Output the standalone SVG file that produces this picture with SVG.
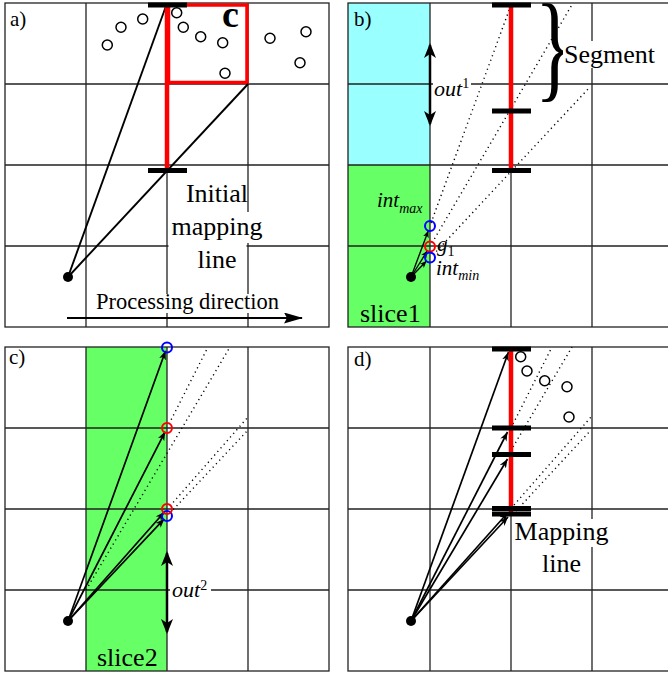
<svg xmlns="http://www.w3.org/2000/svg" width="668" height="677" viewBox="0 0 668 677">
<style>
.grid{stroke:#222;stroke-width:1.3;fill:none}
.red{stroke:#ff0000;stroke-width:4.5;fill:none}
.bar{stroke:#000;stroke-width:5;fill:none}
.ray{stroke:#000;stroke-width:1.9;fill:none}
.raya{stroke:#000;stroke-width:1.7;fill:none;marker-end:url(#ah)}
.rays{stroke:#000;stroke-width:1.3;fill:none;marker-end:url(#ahs)}
.dl{stroke:#000;stroke-width:1.4;stroke-dasharray:1.2 3.6;fill:none}
.oc{fill:none;stroke:#000;stroke-width:1.5}
.bc{fill:none;stroke:#0000ff;stroke-width:2}
.rc{fill:none;stroke:#ff0000;stroke-width:2}
.dbl{stroke:#000;stroke-width:2.5;fill:none;marker-start:url(#ahb);marker-end:url(#ahb)}
.bg{fill:#fff}
text{font-family:"Liberation Serif","Times New Roman",serif;fill:#000}
.it{font-style:italic}
.lab{font-size:21px}
.big{font-size:26px}
</style>
<defs>
<marker id="ah" markerUnits="userSpaceOnUse" markerWidth="9" markerHeight="7" refX="9" refY="3.5" orient="auto"><path d="M0,0 L9,3.5 L0,7 L2.5,3.5 z"/></marker>
<marker id="ahs" markerUnits="userSpaceOnUse" markerWidth="7" markerHeight="6" refX="7" refY="3" orient="auto"><path d="M0,0 L7,3 L0,6 L2,3 z"/></marker>
<marker id="ahb" markerUnits="userSpaceOnUse" markerWidth="15" markerHeight="12" refX="13" refY="6" orient="auto-start-reverse"><path d="M0,0 L15,6 L0,12 L4,6 z"/></marker>
<marker id="ahp" markerUnits="userSpaceOnUse" markerWidth="19" markerHeight="11" refX="18" refY="5.5" orient="auto"><path d="M0,0 L19,5.5 L0,11 L3,5.5 z"/></marker>
</defs>

<!-- Panel a -->
<g id="panel-a">
  <g id="a-grid" class="grid">
    <rect x="5" y="3" width="324" height="324"/>
    <path d="M86,3V327M167,3V327M248,3V327M5,84H329M5,165H329M5,246H329"/>
  </g>
  <g id="a-cell-c">
    <rect x="168.5" y="5" width="78.5" height="77.5" fill="none" stroke="#ff0000" stroke-width="3.5"/>
    <text x="222" y="27" font-size="38" font-weight="bold">c</text>
  </g>
  <g id="a-points">
    <circle class="oc" cx="107.3" cy="45" r="5"/>
    <circle class="oc" cx="121" cy="27.3" r="5"/>
    <circle class="oc" cx="142.7" cy="19" r="5"/>
    <circle class="oc" cx="176.7" cy="12.7" r="5"/>
    <circle class="oc" cx="183.3" cy="27.3" r="5"/>
    <circle class="oc" cx="200.7" cy="36.7" r="5"/>
    <circle class="oc" cx="222.7" cy="42.7" r="5"/>
    <circle class="oc" cx="225" cy="73.3" r="5"/>
    <circle class="oc" cx="270" cy="38.3" r="5"/>
    <circle class="oc" cx="306" cy="31.7" r="5"/>
    <circle class="oc" cx="300" cy="62.7" r="5"/>
  </g>
  <g id="a-connectors">
    <path class="ray" d="M68,277L166,6"/>
    <path class="ray" d="M68,277L248,84"/>
    <path class="ray" d="M67,318H302" stroke-width="2" marker-end="url(#ahp)"/>
  </g>
  <g id="a-mapping-line">
    <path class="red" d="M167,5V168"/>
    <path class="bar" d="M148,5H187M148,170.5H187"/>
  </g>
  <circle id="a-source" cx="68" cy="277" r="5" fill="#000"/>
  <g id="a-label-initial">
    <rect class="bg" x="168.5" y="176" width="78" height="108"/>
    <rect class="bg" x="171" y="212" width="92" height="31"/>
    <text class="big" x="217" y="202" text-anchor="middle">Initial</text>
    <text class="big" x="217" y="235" text-anchor="middle">mapping</text>
    <text class="big" x="217" y="268" text-anchor="middle">line</text>
  </g>
  <g id="a-label-proc">
    <rect class="bg" x="95" y="294" width="188" height="19"/>
    <text x="96" y="309" font-size="22.5">Processing direction</text>
  </g>
  <text class="lab" x="10" y="26">a)</text>
</g>

<!-- Panel b -->
<g id="panel-b">
  <rect x="348" y="3" width="82" height="162" fill="#99ffff"/>
  <rect x="348" y="165" width="82" height="162" fill="#66ff66"/>
  <g id="b-grid" class="grid">
    <rect x="348" y="3" width="325" height="324"/>
    <path d="M430,3V327M511,3V327M592,3V327M348,84H673M348,165H673M348,246H673"/>
  </g>
  <g id="b-connectors">
    <path class="dl" d="M431,223L511,5"/>
    <path class="dl" d="M432,243L573,3"/>
    <path class="dl" d="M433,255L589,88"/>
    <path class="rays" d="M411,277L428.3,230.7"/>
    <path class="rays" d="M411,277L427.4,250.7"/>
    <path class="rays" d="M411,277L426.5,261"/>
    <path class="dbl" d="M430,45V124"/>
  </g>
  <g id="b-segment">
    <path class="red" d="M511,5V168"/>
    <path class="bar" d="M492,5H531M492,111H531M492,170.5H531"/>
  </g>
  <text id="b-brace" transform="translate(535,86) scale(0.68,1)" font-size="118">}</text>
  <g id="b-label-segment">
    <rect class="bg" x="563" y="41" width="96" height="27"/>
    <text class="big" x="564" y="63">Segment</text>
  </g>
  <g id="b-label-out1">
    <rect class="bg" x="433" y="74" width="38" height="26"/>
    <text x="434" y="96" font-size="22"><tspan class="it">out</tspan><tspan font-size="14" dy="-8">1</tspan></text>
  </g>
  <g id="b-intersections">
    <circle class="bc" cx="430" cy="226" r="5"/>
    <circle class="rc" cx="430" cy="246.5" r="5"/>
    <circle class="bc" cx="430" cy="257.5" r="5"/>
  </g>
  <circle id="b-source" cx="411" cy="277" r="5" fill="#000"/>
  <text x="377" y="207" font-size="21" class="it">int<tspan font-size="14" dy="6">max</tspan></text>
  <text x="437" y="251" font-size="21"><tspan class="it">g</tspan><tspan font-size="14" dy="5">1</tspan></text>
  <text x="436" y="275" font-size="21" class="it">int<tspan font-size="14" dy="5">min</tspan></text>
  <text class="big" x="360" y="322">slice1</text>
  <text class="lab" x="354" y="26">b)</text>
</g>

<!-- Panel c -->
<g id="panel-c">
  <rect x="86" y="347" width="81" height="324" fill="#66ff66"/>
  <g id="c-grid" class="grid">
    <rect x="5" y="347" width="324" height="324"/>
    <path d="M86,347V671M167,347V671M248,347V671M5,428H329M5,509H329M5,590H329"/>
  </g>
  <g id="c-connectors">
    <path class="dl" d="M86,590L230,347"/>
    <path class="dl" d="M169,424L208,347"/>
    <path class="dl" d="M170,506L248,417"/>
    <path class="dl" d="M170,513L248,430"/>
    <path class="raya" d="M68,621L165.6,350.8"/>
    <path class="raya" d="M68,621L165.2,431.6"/>
    <path class="raya" d="M68,621L164.4,512"/>
    <path class="raya" d="M68,621L164.3,518.9"/>
    <path class="dbl" d="M167,553V632"/>
  </g>
  <g id="c-intersections">
    <circle class="bc" cx="167" cy="347.5" r="5"/>
    <circle class="rc" cx="167" cy="428" r="5"/>
    <circle class="bc" cx="167" cy="516" r="5"/>
    <circle class="rc" cx="167" cy="509" r="5"/>
  </g>
  <circle id="c-source" cx="68" cy="621" r="5" fill="#000"/>
  <g id="c-label-out2">
    <rect class="bg" x="170" y="579" width="41" height="22"/>
    <text x="172" y="597" font-size="22"><tspan class="it">out</tspan><tspan font-size="14" dy="-7">2</tspan></text>
  </g>
  <text class="big" x="97" y="666">slice2</text>
  <text class="lab" x="9" y="364">c)</text>
</g>

<!-- Panel d -->
<g id="panel-d">
  <g id="d-grid" class="grid">
    <rect x="348" y="347" width="325" height="324"/>
    <path d="M430,347V671M511,347V671M592,347V671M348,428H673M348,509H673M348,590H673"/>
  </g>
  <g id="d-points">
    <circle class="oc" cx="520.7" cy="356.7" r="5"/>
    <circle class="oc" cx="527" cy="371" r="5"/>
    <circle class="oc" cx="544.7" cy="380.7" r="5"/>
    <circle class="oc" cx="567" cy="386.7" r="5"/>
    <circle class="oc" cx="569" cy="417" r="5"/>
  </g>
  <g id="d-connectors">
    <path class="dl" d="M513,424L552,347"/>
    <path class="dl" d="M513,447L572,347"/>
    <path class="dl" d="M514,505L591,417"/>
    <path class="dl" d="M516,511L591,430"/>
    <path class="raya" d="M411,621L508.5,352"/>
    <path class="raya" d="M411,621L507.5,432"/>
    <path class="raya" d="M411,621L507.5,459"/>
    <path class="raya" d="M411,621L508,512.5"/>
    <path class="raya" d="M411,621L508,517"/>
  </g>
  <g id="d-mapping-line">
    <path class="red" d="M511,349V512"/>
    <path class="bar" d="M492,349H531M492,428H531M492,454.5H531"/>
    <path class="bar" d="M492,508.5H531M492,514H531" stroke-width="4"/>
  </g>
  <circle id="d-source" cx="411" cy="621" r="5" fill="#000"/>
  <g id="d-label-mapping">
    <rect class="bg" x="513" y="519" width="97" height="28"/>
    <rect class="bg" x="541" y="547" width="42" height="28"/>
    <text class="big" x="561.5" y="539.5" text-anchor="middle">Mapping</text>
    <text class="big" x="561.5" y="571.5" text-anchor="middle">line</text>
  </g>
  <text class="lab" x="354" y="366">d)</text>
</g>
</svg>
